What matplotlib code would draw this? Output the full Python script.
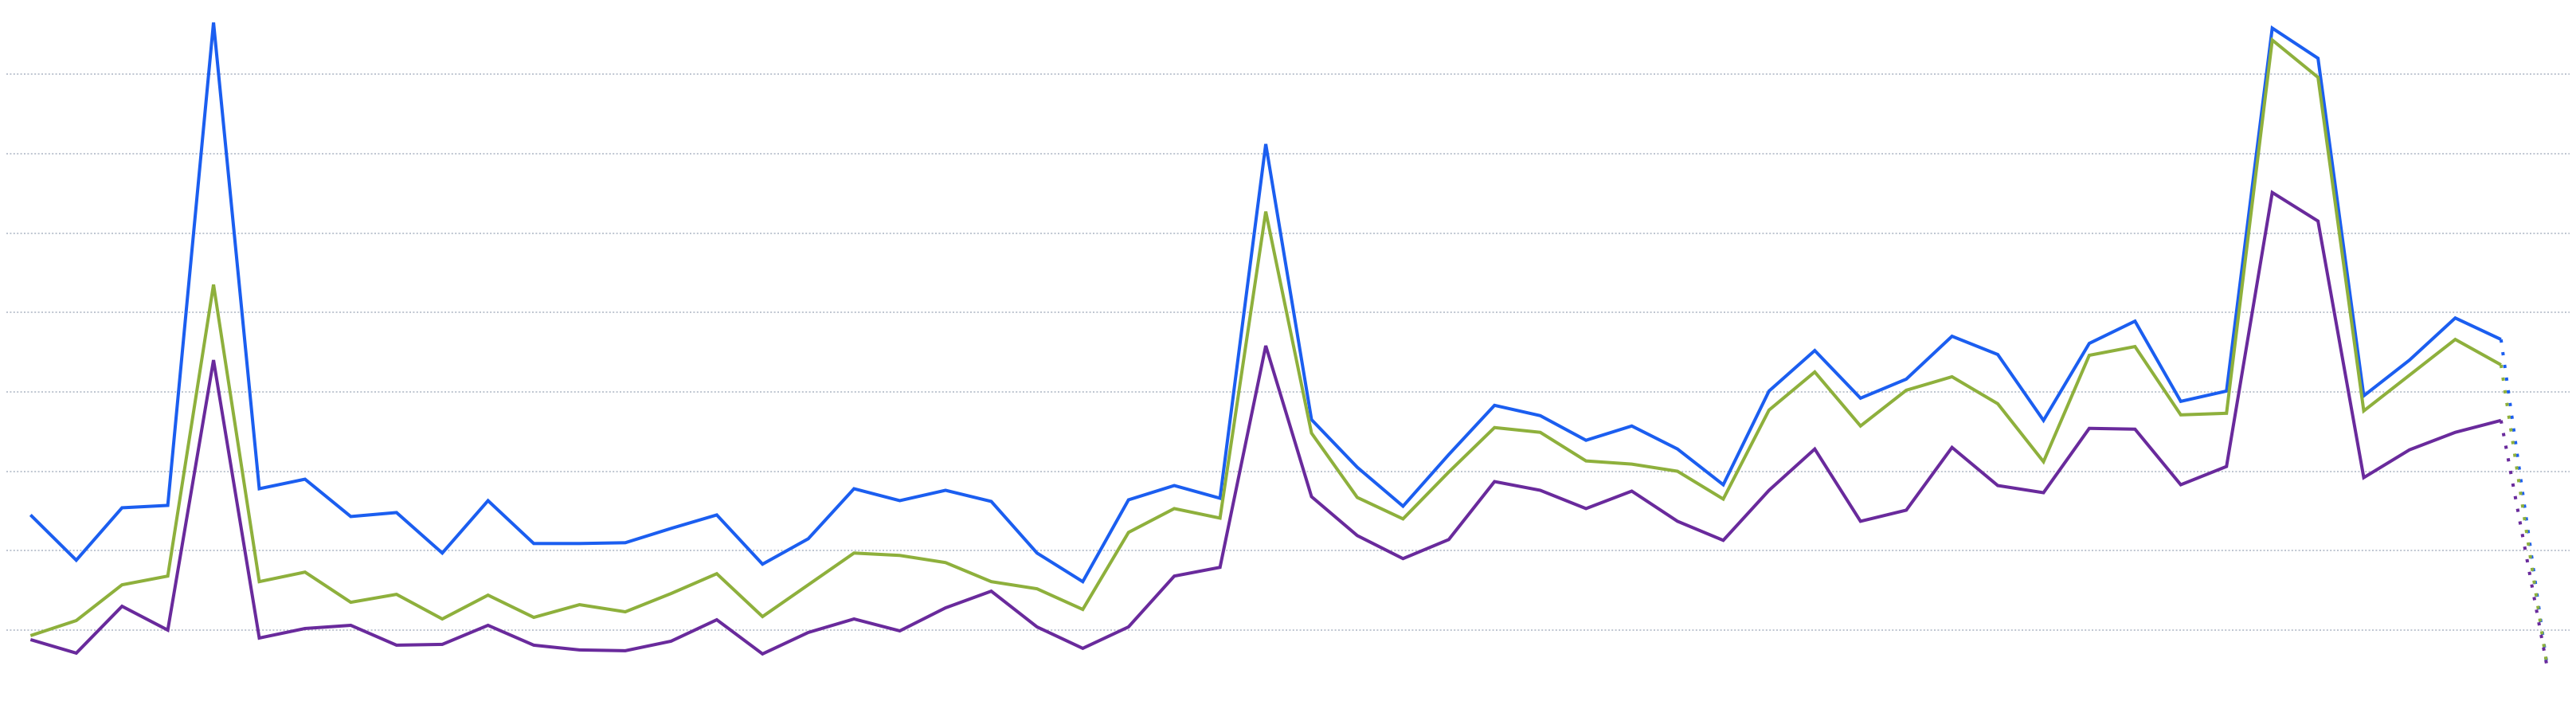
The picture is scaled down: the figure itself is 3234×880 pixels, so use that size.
import numpy as np
import matplotlib
matplotlib.use("Agg")
import matplotlib.pyplot as plt

# values in chart units (gridlines every 100)
blue = [245, 188, 254, 257, 865, 278, 290, 243, 248, 197,
        263, 209, 209, 210, 228, 245, 183, 215, 278,
        263, 276, 262, 197, 161, 264, 282, 266, 712,
        365, 305, 256, 321, 383, 370, 339, 357, 328, 283,
        401, 452, 392, 416, 470, 447, 364, 461, 489,
        388, 401, 858, 820, 395, 440, 493, 466,
        58]
green = [93, 112, 157, 168, 535, 161, 173, 135, 145, 114,
         144, 116, 132, 123, 146, 171, 117, 157, 197,
         194, 185, 161, 152, 126, 223, 253, 241, 627,
         348, 267, 240, 299, 355, 349, 313, 309, 300, 265,
         377, 425, 357, 402, 419, 385, 312, 446, 457,
         371, 373, 843, 796, 376, 421, 466, 434,
         57]
purple = [88, 71, 130, 100, 440, 90, 102, 106, 81, 82,
          106, 81, 75, 74, 86, 113, 70, 97, 114,
          99, 128, 149, 104, 77, 104, 168, 179, 458,
          268, 219, 190, 214, 287, 276, 253, 275, 237, 213,
          276, 328, 237, 251, 330, 282, 273, 354, 353,
          283, 306, 651, 615, 292, 327, 349, 364,
          56]
grid_values = [100, 200, 300, 400, 500, 600, 700, 800]

series = [(blue, "#1b5ef0"), (green, "#8eb03c"), (purple, "#692a9c")]

W, H = 3234, 880
fig = plt.figure(figsize=(W / 100, H / 100), dpi=100)
ax = fig.add_axes([8 / W, 0, (3226 - 8) / W, 1])

x = np.arange(len(blue))
lw = 2.9
for vals, col in series:
    v = np.array(vals, dtype=float)
    ax.plot(x[:-1], v[:-1], color=col, lw=lw, solid_joinstyle="miter",
            solid_capstyle="butt", zorder=3)
    ax.plot(x[-2:], v[-2:], color=col, lw=lw, linestyle=(0, (1, 3)),
            dash_capstyle="butt", zorder=3)

ax.set_xlim(-0.528, 55.5)
ax.set_ylim(10.7, 893.4)
ax.set_yticks(grid_values)
ax.set_xticks([])
ax.yaxis.grid(True, color="#bfc6d1", linestyle=(0, (1, 1.2)), linewidth=1.44, zorder=0)
ax.tick_params(left=False, labelleft=False, bottom=False, labelbottom=False)
for s in ax.spines.values():
    s.set_visible(False)
ax.set_facecolor("white")
fig.patch.set_facecolor("white")

fig.savefig("out.png", dpi=100)
